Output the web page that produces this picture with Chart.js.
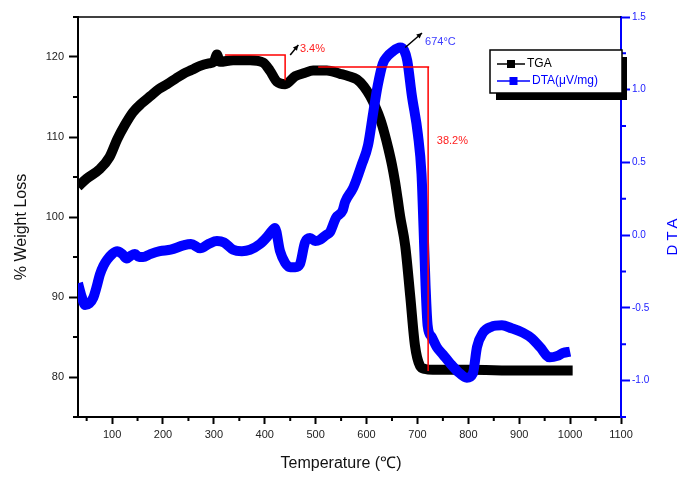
<!doctype html>
<html>
<head>
  <script src="https://cdn.jsdelivr.net/npm/chart.js@4"></script>
  <style>
    body { margin: 0; background: #fff; }
  </style>
</head>
<body>
  <canvas id="canvas" width="682" height="477"></canvas>
  <script>
    // TGA curve (% weight) vs temperature
    const tgaTemp = [33, 50, 76, 95, 110, 125, 141, 158, 175, 192, 208, 225, 240, 257, 273, 290, 300, 306, 312, 338, 371, 397, 410, 424, 440, 460, 478, 495, 522, 548, 565, 581, 595, 607, 617, 627, 635, 643, 650, 656, 661, 666, 676, 686, 695, 705, 715, 730, 800, 900, 1005];
    const tgaWeight = [103.8, 104.8, 106.0, 107.5, 109.7, 111.5, 113.1, 114.2, 115.1, 116.0, 116.6, 117.3, 117.9, 118.4, 118.9, 119.2, 119.4, 120.3, 119.4, 119.6, 119.6, 119.3, 118.3, 116.9, 116.6, 117.6, 118.0, 118.3, 118.3, 117.9, 117.6, 117.2, 116.3, 115.1, 113.8, 112.2, 110.5, 108.5, 106.5, 104.4, 102.3, 100.1, 96.4, 90.0, 84.0, 81.4, 81.0, 80.9, 80.9, 80.8, 80.8];

    // DTA signal (uV/mg) vs temperature
    const dtaTemp = [33, 40, 47, 55, 63, 70, 76, 83, 90, 100, 110, 120, 129, 137, 145, 153, 161, 175, 194, 215, 240, 255, 273, 290, 306, 320, 338, 355, 371, 391, 405, 414, 420, 430, 440, 450, 460, 469, 479, 489, 499, 509, 520, 528, 540, 553, 558, 573, 580, 590, 603, 613, 622, 632, 641, 650, 666, 674, 680, 689, 701, 708, 712, 716, 720, 728, 738, 750, 764, 780, 797, 809, 817, 829, 845, 866, 885, 907, 925, 941, 960, 975, 986, 1000];
    const dtaSignal = [-0.33, -0.42, -0.48, -0.47, -0.43, -0.35, -0.27, -0.21, -0.17, -0.13, -0.11, -0.13, -0.16, -0.14, -0.13, -0.15, -0.15, -0.13, -0.11, -0.10, -0.07, -0.06, -0.09, -0.06, -0.04, -0.05, -0.10, -0.11, -0.10, -0.06, -0.01, 0.03, 0.05, -0.11, -0.19, -0.22, -0.22, -0.20, -0.05, -0.02, -0.04, -0.03, 0.00, 0.02, 0.12, 0.17, 0.23, 0.32, 0.38, 0.48, 0.62, 0.84, 1.03, 1.18, 1.23, 1.26, 1.29, 1.27, 1.20, 0.96, 0.69, 0.42, 0.05, -0.35, -0.62, -0.70, -0.77, -0.82, -0.88, -0.94, -0.98, -0.95, -0.77, -0.67, -0.63, -0.62, -0.64, -0.67, -0.71, -0.77, -0.84, -0.83, -0.81, -0.80];

    // axis ticks
    const tempTicks = [100, 200, 300, 400, 500, 600, 700, 800, 900, 1000, 1100];
    const weightTicks = [80, 90, 100, 110, 120];
    const dtaTicks = [-1.0, -0.5, 0.0, 0.5, 1.0, 1.5];

    // red step markers for the two weight losses: [temp, weight]
    const step1 = [[322, 120.25], [440, 120.25], [440, 117.1]];
    const step2 = [[505, 118.75], [723, 118.75], [721, 118.75], [721, 80.75]];

    const font = 'Liberation Sans, Arial, sans-serif';

    const fixedSize = (w, h) => (scale) => {
      if (w != null) scale.width = w;
      if (h != null) scale.height = h;
    };
    const setTicks = (vals) => (scale) => {
      scale.ticks = vals.map((v) => ({ value: v }));
    };

    function arrow(ctx, x1, y1, x2, y2, color) {
      ctx.save();
      ctx.strokeStyle = color;
      ctx.fillStyle = color;
      ctx.lineWidth = 1.5;
      ctx.beginPath();
      ctx.moveTo(x1, y1);
      ctx.lineTo(x2, y2);
      ctx.stroke();
      const a = Math.atan2(y2 - y1, x2 - x1);
      ctx.beginPath();
      ctx.moveTo(x2, y2);
      ctx.lineTo(x2 - 6 * Math.cos(a - 0.45), y2 - 6 * Math.sin(a - 0.45));
      ctx.lineTo(x2 - 6 * Math.cos(a + 0.45), y2 - 6 * Math.sin(a + 0.45));
      ctx.closePath();
      ctx.fill();
      ctx.restore();
    }

    const decor = {
      id: 'decor',
      afterDatasetsDraw(chart) {
        const { ctx, scales: { x, y, y1 } } = chart;
        // red step lines
        ctx.save();
        ctx.strokeStyle = '#ff0000';
        ctx.lineWidth = 1.5;
        [step1, step2].forEach((pts) => {
          ctx.beginPath();
          pts.forEach((p, i) => {
            const px = x.getPixelForValue(p[0]);
            const py = y.getPixelForValue(p[1]);
            if (i === 0) ctx.moveTo(px, py); else ctx.lineTo(px, py);
          });
          ctx.stroke();
        });
        ctx.fillStyle = '#ff2020';
        ctx.font = '11px ' + font;
        ctx.textBaseline = 'middle';
        ctx.fillText('3.4%', x.getPixelForValue(469), y.getPixelForValue(121.0));
        ctx.fillText('38.2%', x.getPixelForValue(738), y.getPixelForValue(109.5));
        ctx.fillStyle = '#3a3aff';
        ctx.fillText('674°C', x.getPixelForValue(715), y1.getPixelForValue(1.33));
        ctx.restore();
        arrow(ctx, x.getPixelForValue(450), y.getPixelForValue(120.25),
          x.getPixelForValue(466), y.getPixelForValue(121.5), '#000');
        arrow(ctx, x.getPixelForValue(676), y1.getPixelForValue(1.29),
          x.getPixelForValue(709), y1.getPixelForValue(1.39), '#000');
      },
      afterDraw(chart) {
        const { ctx, chartArea: a, scales: { x, y, y1 } } = chart;
        ctx.save();
        // top frame
        ctx.strokeStyle = '#000';
        ctx.lineWidth = 1.5;
        ctx.beginPath();
        ctx.moveTo(a.left, a.top);
        ctx.lineTo(a.right, a.top);
        ctx.stroke();
        // minor ticks
        ctx.lineWidth = 2;
        ctx.beginPath();
        for (let v = 50; v <= 1050; v += 100) {
          const px = x.getPixelForValue(v);
          ctx.moveTo(px, a.bottom);
          ctx.lineTo(px, a.bottom + 4);
        }
        for (let v = 75; v <= 125; v += 10) {
          const py = y.getPixelForValue(v);
          ctx.moveTo(a.left, py);
          ctx.lineTo(a.left - 5, py);
        }
        ctx.stroke();
        ctx.strokeStyle = '#0000ff';
        ctx.beginPath();
        for (let v = -1.25; v <= 1.3; v += 0.5) {
          const py = y1.getPixelForValue(v);
          ctx.moveTo(a.right, py);
          ctx.lineTo(a.right + 5, py);
        }
        ctx.stroke();

        // axis titles
        ctx.fillStyle = '#111';
        ctx.textAlign = 'center';
        ctx.textBaseline = 'middle';
        ctx.font = '16px ' + font;
        ctx.fillText('Temperature (℃)', 341, 464);
        ctx.save();
        ctx.translate(22, 227);
        ctx.rotate(-Math.PI / 2);
        ctx.fillText('% Weight Loss', 0, 0);
        ctx.restore();
        ctx.save();
        ctx.translate(673, 235);
        ctx.rotate(-Math.PI / 2);
        ctx.fillStyle = '#0000ff';
        ctx.font = '15px ' + font;
        ctx.letterSpacing = '4px';
        ctx.fillText('DTA', 0, 0);
        ctx.restore();

        // legend box with shadow
        ctx.fillStyle = '#000';
        ctx.fillRect(496, 57, 131, 43);
        ctx.fillStyle = '#fff';
        ctx.fillRect(490, 50, 132, 43);
        ctx.strokeStyle = '#000';
        ctx.lineWidth = 1.5;
        ctx.strokeRect(490, 50, 132, 43);
        const entries = [
          { label: 'TGA', color: '#000', y: 64, x0: 497, x1: 525 },
          { label: 'DTA(μV/mg)', color: '#0000ff', y: 81, x0: 497, x1: 530 }
        ];
        ctx.textAlign = 'left';
        ctx.font = '12px ' + font;
        entries.forEach((e) => {
          ctx.strokeStyle = e.color;
          ctx.fillStyle = e.color;
          ctx.lineWidth = 1.5;
          ctx.beginPath();
          ctx.moveTo(e.x0, e.y);
          ctx.lineTo(e.x1, e.y);
          ctx.stroke();
          const mx = (e.x0 + e.x1) / 2;
          ctx.fillRect(mx - 4, e.y - 4, 8, 8);
          ctx.fillText(e.label, e.x1 + 2, e.y);
        });
        ctx.restore();
      }
    };

    new Chart(document.getElementById('canvas').getContext('2d'), {
      type: 'line',
      data: {
        datasets: [
          {
            label: 'DTA(μV/mg)',
            data: dtaTemp.map((t, i) => ({ x: t, y: dtaSignal[i] })),
            yAxisID: 'y1',
            borderColor: '#0000ff',
            backgroundColor: '#0000ff',
            borderWidth: 10,
            pointRadius: 0,
            cubicInterpolationMode: 'monotone',
            order: 1
          },
          {
            label: 'TGA',
            data: tgaTemp.map((t, i) => ({ x: t, y: tgaWeight[i] })),
            yAxisID: 'y',
            borderColor: '#000',
            backgroundColor: '#000',
            borderWidth: 10,
            pointRadius: 0,
            cubicInterpolationMode: 'monotone',
            order: 2
          }
        ]
      },
      options: {
        responsive: false,
        animation: false,
        layout: { padding: { top: 17, left: 0, right: 0, bottom: 0 } },
        plugins: { legend: { display: false }, tooltip: { enabled: false } },
        scales: {
          x: {
            type: 'linear',
            min: 33,
            max: 1100,
            afterBuildTicks: setTicks(tempTicks),
            afterFit: fixedSize(null, 60),
            grid: { drawOnChartArea: false, tickLength: 7, tickWidth: 2, tickColor: '#000' },
            border: { color: '#000', width: 2 },
            ticks: {
              color: '#222',
              font: { family: font, size: 11 },
              padding: 4,
              maxRotation: 0,
              autoSkip: false,
              callback: (v) => String(v)
            }
          },
          y: {
            position: 'left',
            min: 75,
            max: 125,
            afterBuildTicks: setTicks(weightTicks),
            afterFit: fixedSize(78, null),
            grid: { drawOnChartArea: false, tickLength: 9, tickWidth: 2, tickColor: '#000' },
            border: { color: '#000', width: 2 },
            ticks: { color: '#222', font: { family: font, size: 11 }, padding: 5 }
          },
          y1: {
            position: 'right',
            min: -1.25,
            max: 1.5,
            afterBuildTicks: setTicks(dtaTicks),
            afterFit: fixedSize(61, null),
            grid: { drawOnChartArea: false, tickLength: 9, tickWidth: 2, tickColor: '#0000ff' },
            border: { color: '#0000ff', width: 2 },
            ticks: {
              color: '#2020ff',
              font: { family: font, size: 10 },
              padding: 2,
              callback: (v) => (Math.abs(v) < 1e-9 ? 0 : v).toFixed(1)
            }
          }
        }
      },
      plugins: [decor]
    });
  </script>
</body>
</html>
